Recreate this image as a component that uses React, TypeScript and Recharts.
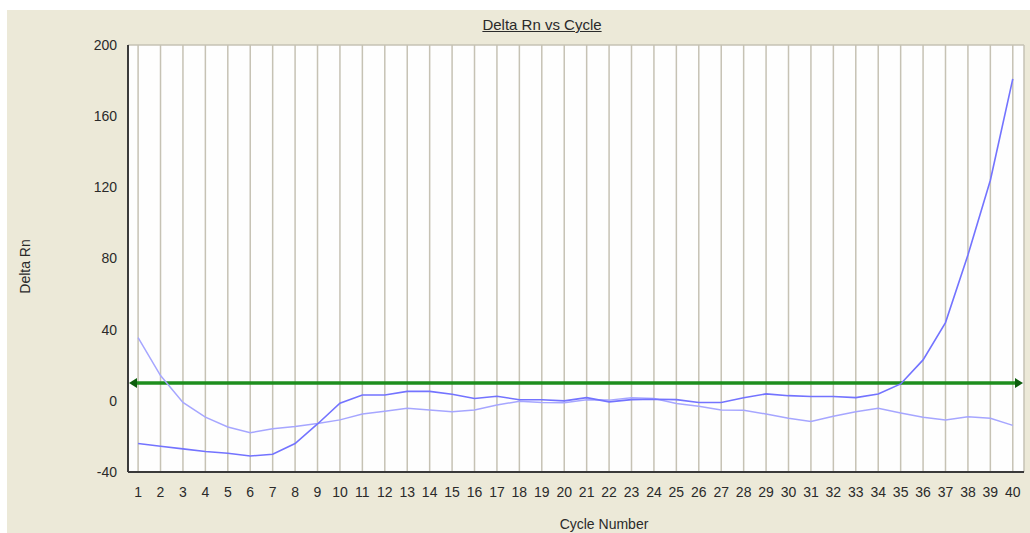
import React from 'react';
import { ComposedChart, Line, XAxis, YAxis, CartesianGrid, ReferenceLine } from 'recharts';

// cycle numbers on the x axis
const cycles = [
  1, 2, 3, 4, 5, 6, 7, 8, 9, 10, 11, 12, 13, 14, 15, 16, 17, 18, 19, 20,
  21, 22, 23, 24, 25, 26, 27, 28, 29, 30, 31, 32, 33, 34, 35, 36, 37, 38, 39, 40,
];

// the well that amplifies (darker blue)
const wellA = [
  -24, -25.5, -27, -28.5, -29.5, -31, -30, -24, -13, -1.3,
  3.3, 3.3, 5.3, 5.3, 3.7, 1.3, 2.6, 0.6, 0.6, 0,
  1.8, -0.6, 0.7, 0.9, 0.7, -0.9, -0.9, 1.7, 3.9, 2.9,
  2.4, 2.4, 1.8, 3.8, 9.5, 23, 44, 82, 124, 181,
];

// the flat well (lighter blue)
const wellB = [
  35.5, 14.2, -0.9, -9.2, -14.7, -17.9, -15.7, -14.4, -12.7, -10.7,
  -7.4, -5.9, -4.2, -5.2, -6.1, -5.2, -2.4, -0.2, -0.9, -1.1,
  0.6, 0.4, 1.8, 1.3, -1.5, -3.1, -5.2, -5.3, -7.4, -9.8,
  -11.6, -8.7, -6.1, -4.2, -6.8, -9.2, -10.7, -9, -9.8, -13.8,
];

const yTicks = [-40, 0, 40, 80, 120, 160, 200];
const threshold = 10;

const chartData = cycles.map((c, i) => ({ cycle: c, a: wellA[i], b: wellB[i] }));

const FONT = '"Liberation Sans", Arial, sans-serif';
const tickStyle = { fontSize: 14, fill: '#2a2a2a', fontFamily: FONT };

const YTitle = (props: any) => {
  const vb = props.viewBox || { x: 0, y: 0, height: 0 };
  const cx = vb.x + 25;
  const cy = vb.y + vb.height / 2 + 8;
  return (
    <text x={cx} y={cy} transform={`rotate(-90 ${cx} ${cy})`} textAnchor="middle" dominantBaseline="central"
      style={{ fontSize: 14, fill: '#2a2a2a', fontFamily: FONT }}>
      Delta Rn
    </text>
  );
};

const XTitle = (props: any) => {
  const vb = props.viewBox || { x: 0, y: 0, width: 0 };
  return (
    <text x={vb.x + vb.width / 2 + 28} y={vb.y + 57} textAnchor="middle"
      style={{ fontSize: 14, fill: '#2a2a2a', fontFamily: FONT }}>
      Cycle Number
    </text>
  );
};

// threshold line with arrow heads on both ends
const ThresholdShape = (props: any) => {
  const { x1, y1, x2, y2 } = props;
  const c = '#1e8e1e';
  return (
    <g>
      <line x1={x1 + 4} y1={y1} x2={x2 - 4} y2={y2} stroke={c} strokeWidth={3.5} />
      <path d={`M${x1 + 1},${y1} L${x1 + 9},${y1 - 5} L${x1 + 9},${y1 + 5} Z`} fill="#0d5e0d" />
      <path d={`M${x2 - 1},${y2} L${x2 - 9},${y2 - 5} L${x2 - 9},${y2 + 5} Z`} fill="#0d5e0d" />
    </g>
  );
};

const App = () => {
  return (
    <div style={{ position: 'absolute', left: 0, top: 0, width: 1030, height: 533, background: '#fff', overflow: 'hidden' }}>
      <div style={{ position: 'absolute', left: 7, top: 10, width: 1023, height: 523, background: '#ECE9D8' }} />
      <div style={{
        position: 'absolute', left: 442, top: 16, width: 200, textAlign: 'center',
        fontFamily: FONT, fontSize: 15, color: '#2a2a2a', textDecoration: 'underline', lineHeight: '18px',
      }}>
        Delta Rn vs Cycle
      </div>
      <div style={{ position: 'absolute', left: 0, top: 0 }}>
        <ComposedChart width={1030} height={533} data={chartData} margin={{ top: 45, right: 6, left: 0, bottom: 0 }}>
          <CartesianGrid stroke="#c6c2b4" strokeWidth={1.5} fill="#fefefe" />
          <XAxis
            dataKey="cycle"
            type="number"
            domain={[0.55, 40.5]}
            ticks={cycles}
            interval={0}
            allowDataOverflow
            height={61}
            tickLine={false}
            tickSize={0}
            tickMargin={15}
            tick={tickStyle}
            axisLine={{ stroke: '#3a3a3a', strokeWidth: 2 }}
            label={<XTitle />}
          />
          <YAxis
            yAxisId="left"
            type="number"
            domain={[-40, 200]}
            ticks={yTicks}
            interval={0}
            width={128}
            tickLine={false}
            tickSize={0}
            tickMargin={11}
            tick={tickStyle}
            axisLine={{ stroke: '#3a3a3a', strokeWidth: 2 }}
            label={<YTitle />}
          />
          <YAxis
            yAxisId="right"
            orientation="right"
            domain={[-40, 200]}
            width={0}
            tick={false}
            tickLine={false}
            axisLine={{ stroke: '#555', strokeWidth: 2 }}
          />
          <ReferenceLine yAxisId="left" y={threshold} shape={<ThresholdShape />} ifOverflow="extendDomain" />
          <Line yAxisId="left" type="linear" dataKey="b" stroke="#a6a6ff" strokeWidth={1.5} dot={false} isAnimationActive={false} />
          <Line yAxisId="left" type="linear" dataKey="a" stroke="#7373ff" strokeWidth={1.6} dot={false} isAnimationActive={false} />
        </ComposedChart>
      </div>
    </div>
  );
};

export default App;
